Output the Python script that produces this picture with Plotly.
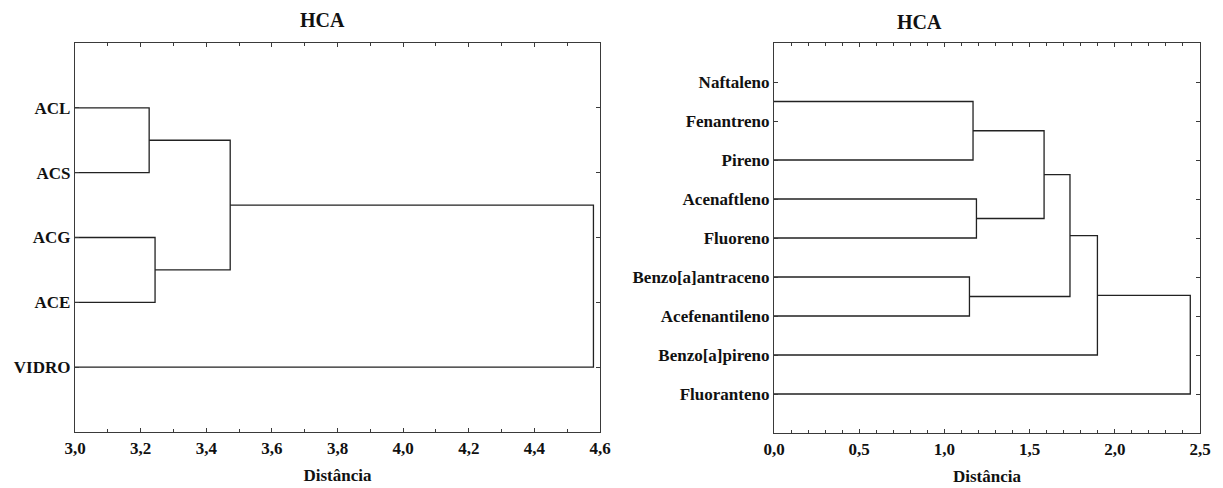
import plotly.graph_objects as go

# ---- Left dendrogram: sample groups ----
left_labels = ["ACL", "ACS", "ACG", "ACE", "VIDRO"]
left_label_pos = [1, 2, 3, 4, 5]
left_leaf_pos = [1, 2, 3, 4, 5]
# (child a, child b, linkage distance); indices >= n refer to earlier merges
left_merges = [(0, 1, 3.226), (2, 3, 3.244), (5, 6, 3.473), (7, 4, 4.580)]
left_xticks = [3.0, 3.2, 3.4, 3.6, 3.8, 4.0, 4.2, 4.4, 4.6]

# ---- Right dendrogram: compounds ----
right_labels = ["Naftaleno", "Fenantreno", "Pireno", "Acenaftleno", "Fluoreno",
                "Benzo[a]antraceno", "Acefenantileno", "Benzo[a]pireno", "Fluoranteno"]
right_label_pos = [1, 2, 3, 4, 5, 6, 7, 8, 9]
right_leaf_pos = [1.5, 3, 4, 5, 6, 7, 8, 9]
right_merges = [(0, 1, 1.168), (2, 3, 1.188), (8, 9, 1.585), (4, 5, 1.147),
                (10, 11, 1.737), (12, 6, 1.898), (13, 7, 2.443)]
right_xticks = [0.0, 0.5, 1.0, 1.5, 2.0, 2.5]


def dendro_path(leaf_pos, merges):
    """Build elbow-connector coordinates for a dendrogram (distance on x)."""
    ys = list(leaf_pos)
    hs = [0.0] * len(leaf_pos)
    xs_out, ys_out = [], []
    for a, b, h in merges:
        xs_out += [hs[a], h, h, hs[b], None]
        ys_out += [ys[a], ys[a], ys[b], ys[b], None]
        ys.append((ys[a] + ys[b]) / 2)
        hs.append(h)
    return xs_out, ys_out


LINE = "#222222"
AXIS = "#3a3a3a"
FONT = "Liberation Serif"

fig = go.Figure()

lx, ly = dendro_path(left_leaf_pos, left_merges)
fig.add_trace(go.Scatter(x=lx, y=ly, mode="lines", xaxis="x", yaxis="y",
                         line=dict(color=LINE, width=1.3), hoverinfo="skip",
                         showlegend=False))

rx, ry = dendro_path(right_leaf_pos, right_merges)
fig.add_trace(go.Scatter(x=rx, y=ry, mode="lines", xaxis="x2", yaxis="y2",
                         line=dict(color=LINE, width=1.3), hoverinfo="skip",
                         showlegend=False))

tickfont = dict(family=FONT, size=17, color="#111", weight="bold")

common_x = dict(showgrid=False, zeroline=False, showline=True, linecolor=AXIS,
                linewidth=1.3, mirror="allticks", ticks="inside", ticklen=4,
                tickcolor=AXIS, tickformat=".1f", tickfont=tickfont,
                automargin=False,
                minor=dict(ticks="inside", ticklen=3, dtick=0.1, tickcolor=AXIS),
                title=dict(text="Distância", standoff=12,
                           font=dict(family=FONT, size=17, color="#111", weight="bold")))
common_y = dict(showgrid=False, zeroline=False, showline=True, linecolor=AXIS,
                linewidth=1.3, mirror="allticks", ticks="inside", ticklen=4,
                tickcolor=AXIS, tickfont=tickfont, automargin=False)

fig.update_layout(
    width=1223, height=488,
    margin=dict(l=0, r=0, t=0, b=0),
    paper_bgcolor="white", plot_bgcolor="white",
    separators=",.",
    xaxis=dict(common_x, domain=[75 / 1223, 600 / 1223], range=[3.0, 4.6],
               tickvals=left_xticks, anchor="y"),
    yaxis=dict(common_y, domain=[1 - 432 / 488, 1 - 43 / 488], range=[6, 0],
               tickvals=left_label_pos, ticktext=left_labels, anchor="x"),
    xaxis2=dict(common_x, domain=[774 / 1223, 1200 / 1223], range=[0.0, 2.5],
                tickvals=right_xticks, anchor="y2"),
    yaxis2=dict(common_y, domain=[1 - 433 / 488, 1 - 43 / 488], range=[10, 0],
                tickvals=right_label_pos, ticktext=right_labels, anchor="x2"),
    annotations=[
        dict(text="HCA", x=322 / 1223, y=1 - 20 / 488, xref="paper", yref="paper",
             showarrow=False, xanchor="center", yanchor="middle",
             font=dict(family=FONT, size=20, color="#111", weight="bold")),
        dict(text="HCA", x=919 / 1223, y=1 - 22 / 488, xref="paper", yref="paper",
             showarrow=False, xanchor="center", yanchor="middle",
             font=dict(family=FONT, size=20, color="#111", weight="bold")),
    ],
)

fig.write_html("out.html")
